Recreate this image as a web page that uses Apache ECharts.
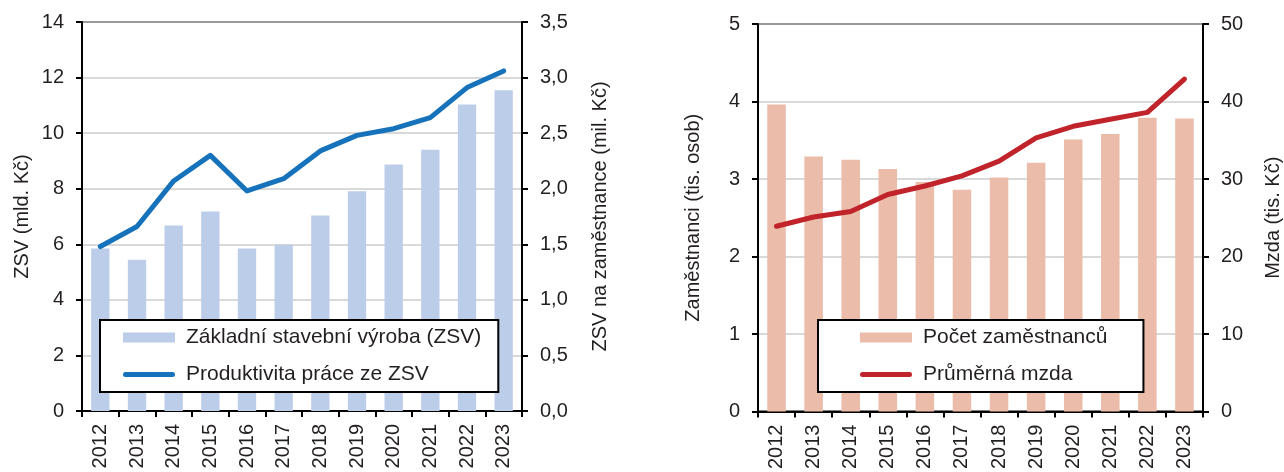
<!DOCTYPE html>
<html><head><meta charset="utf-8">
<script src="https://cdn.jsdelivr.net/npm/echarts@6/dist/echarts.min.js"></script>
<style>html,body{margin:0;padding:0;background:#fff}#c{width:1284px;height:472px}</style>
</head><body><div id="c"></div>
<script>
const years = ['2012','2013','2014','2015','2016','2017','2018','2019','2020','2021','2022','2023'];
const zsv = [5.85,5.44,6.68,7.18,5.85,5.98,7.04,7.91,8.87,9.40,11.03,11.54];
const produktivita = [1.48,1.66,2.07,2.30,1.98,2.09,2.34,2.48,2.54,2.64,2.91,3.06];
const zamestnanci = [3.96,3.29,3.25,3.13,2.96,2.86,3.02,3.21,3.51,3.58,3.79,3.78];
const mzda = [23.9,25.1,25.8,28.0,29.1,30.4,32.3,35.3,36.8,37.7,38.6,42.9];
const names = {
  zsv:'Základní stavební výroba (ZSV)', prod:'Produktivita práce ze ZSV',
  zam:'Počet zaměstnanců', mzda:'Průměrná mzda'
};
const FONT = 'Liberation Sans';
const TXT = '#231f20';
const LINE_ICON = 'path://M2.5,0 L49.5,0 A2.5,2.5 0 0 1 49.5,5 L2.5,5 A2.5,2.5 0 0 1 2.5,0 Z';
const chart = echarts.init(document.getElementById('c'), null, {renderer:'canvas'});
const axisLine = {show:true, lineStyle:{color:'#000', width:2}};
const axisTick = {show:true, length:6, lineStyle:{color:'#000', width:2}};
const lbl = {color:TXT, fontFamily:FONT, fontSize:20, margin:18};
const nameStyle = {color:TXT, fontFamily:FONT, fontSize:20};
const split = {show:true, lineStyle:{color:'#cccccc', width:1.5}};
const comma = v => v.toFixed(1).replace('.', ',');
function xAx(gi){ return {type:'category', gridIndex:gi, data:years, axisLine, axisTick:{...axisTick, alignWithLabel:false},
  axisLabel:{color:TXT, fontFamily:FONT, fontSize:20, rotate:90, margin:13, interval:0}}; }
function legend(left, data, padding){
  return {left, top:320, orient:'vertical', backgroundColor:'#fff', borderColor:'#000', borderWidth:2,
    borderRadius:0, padding, itemWidth:52, itemHeight:10, itemGap:16, symbolKeepAspect:true,
    textStyle:{color:TXT, fontFamily:FONT, fontSize:21, lineHeight:21, padding:[0,0,0,6]}, data};
}
chart.setOption({
  animation:false,
  backgroundColor:'#fff',
  grid:[
    {left:82, top:22, width:440, height:389, show:true, borderColor:'#000', borderWidth:2, containLabel:false},
    {left:758, top:24, width:445, height:388, show:true, borderColor:'#000', borderWidth:2, containLabel:false}
  ],
  legend:[
    legend(100, [{name:names.zsv, icon:'rect'}, {name:names.prod, icon:LINE_ICON}], [7,17,7,23]),
    legend(818, [{name:names.zam, icon:'rect'}, {name:names.mzda, icon:LINE_ICON}], [7,36,7,42])
  ],
  xAxis:[xAx(0), xAx(1)],
  yAxis:[
    {type:'value', gridIndex:0, min:0, max:14, interval:2, position:'left', axisLine, axisTick, axisLabel:lbl, splitLine:split,
     name:'ZSV (mld. Kč)', nameLocation:'middle', nameGap:50, nameTextStyle:nameStyle},
    {type:'value', gridIndex:0, min:0, max:3.5, interval:0.5, position:'right', axisLine, axisTick,
     axisLabel:{...lbl, formatter:comma}, splitLine:{show:false},
     name:'ZSV na zaměstnance (mil. Kč)', nameLocation:'middle', nameGap:68, nameRotate:90, nameTextStyle:nameStyle},
    {type:'value', gridIndex:1, min:0, max:5, interval:1, position:'left', axisLine, axisTick, axisLabel:lbl, splitLine:split,
     name:'Zaměstnanci (tis. osob)', nameLocation:'middle', nameGap:55, nameTextStyle:nameStyle},
    {type:'value', gridIndex:1, min:0, max:50, interval:10, position:'right', axisLine, axisTick, axisLabel:lbl, splitLine:{show:false},
     name:'Mzda (tis. Kč)', nameLocation:'middle', nameGap:60, nameRotate:90, nameTextStyle:nameStyle}
  ],
  series:[
    {name:names.zsv, type:'bar', xAxisIndex:0, yAxisIndex:0, data:zsv, barWidth:'50%', itemStyle:{color:'#bccdea'}, z:1},
    {name:names.prod, type:'line', xAxisIndex:0, yAxisIndex:1, data:produktivita, symbol:'none', showSymbol:false,
     lineStyle:{color:'#1572bb', width:5, cap:'round', join:'round'}, itemStyle:{color:'#1572bb'}, z:3},
    {name:names.zam, type:'bar', xAxisIndex:1, yAxisIndex:2, data:zamestnanci, barWidth:'50%', itemStyle:{color:'#ebbca9'}, z:1},
    {name:names.mzda, type:'line', xAxisIndex:1, yAxisIndex:3, data:mzda, symbol:'none', showSymbol:false,
     lineStyle:{color:'#c1232b', width:5, cap:'round', join:'round'}, itemStyle:{color:'#c1232b'}, z:3}
  ]
});
</script></body></html>
